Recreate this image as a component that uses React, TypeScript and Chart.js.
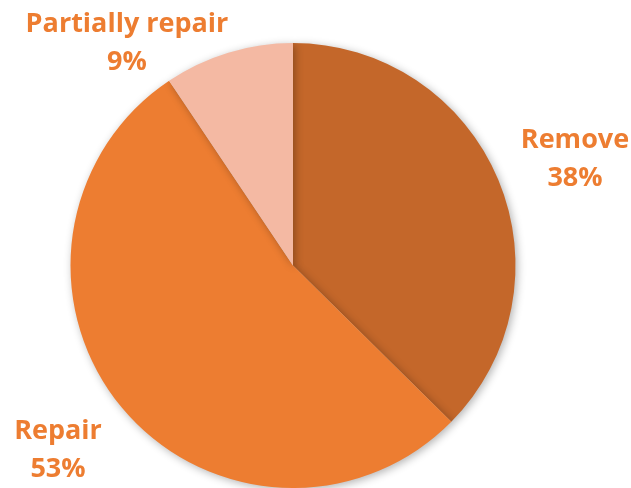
import React, { useEffect, useRef } from "react";
import { Chart, registerables } from "chart.js";

Chart.register(...registerables);

const categories = ["Remove", "Repair", "Partially repair"];
const shares = [37.4, 53.2, 9.4];
const percentLabels = ["38%", "53%", "9%"];
const sliceColors = ["#C4672A", "#ED7D31", "#F4B9A3"];

// label anchor positions (text centre x, first-line baseline y)
const labelAnchors = [
  { x: 575, y: 148 },
  { x: 58, y: 439 },
  { x: 127, y: 32 },
];

const shadowPlugin = {
  id: "pieShadow",
  beforeDatasetsDraw(chart: any) {
    const ctx = chart.ctx;
    ctx.save();
    ctx.shadowColor = "rgba(0,0,0,0.3)";
    ctx.shadowBlur = 8;
    ctx.shadowOffsetX = 2;
    ctx.shadowOffsetY = 2;
  },
  afterDatasetsDraw(chart: any) {
    chart.ctx.restore();
  },
};

const labelPlugin = {
  id: "outerLabels",
  afterDraw(chart: any) {
    const ctx = chart.ctx;
    ctx.save();
    ctx.fillStyle = "#ED7D31";
    ctx.font = "bold 27px 'Open Sans', 'Noto Sans', sans-serif";
    ctx.textAlign = "center";
    ctx.textBaseline = "alphabetic";
    categories.forEach((c, i) => {
      const a = labelAnchors[i];
      ctx.fillText(c, a.x, a.y);
      ctx.fillText(percentLabels[i], a.x, a.y + 38);
    });
    ctx.restore();
  },
};

export default function App() {
  const ref = useRef<HTMLCanvasElement>(null);
  useEffect(() => {
    document.body.style.margin = "0";
    const chart = new Chart(ref.current!, {
      type: "pie",
      data: {
        labels: categories,
        datasets: [
          {
            data: shares,
            backgroundColor: sliceColors,
            borderWidth: 0,
          },
        ],
      },
      options: {
        responsive: false,
        animation: false,
        layout: { padding: { top: 43, bottom: 0, left: 70, right: 115 } },
        plugins: {
          legend: { display: false },
          tooltip: { enabled: false },
        },
      },
      plugins: [shadowPlugin, labelPlugin],
    });
    return () => chart.destroy();
  }, []);
  return (
    <div style={{ width: 631, height: 488, background: "#fff" }}>
      <canvas ref={ref} width={631} height={488} />
    </div>
  );
}
